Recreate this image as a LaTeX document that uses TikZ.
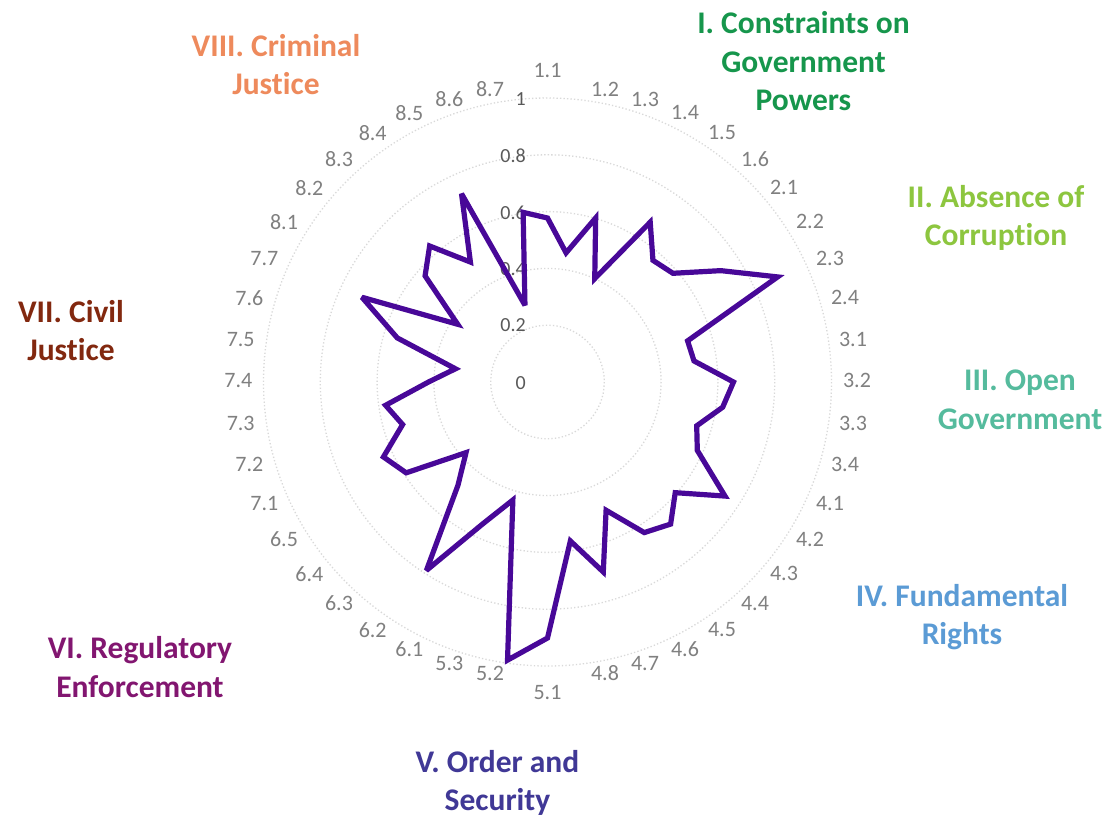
\documentclass[tikz,border=0pt]{standalone}
\usepackage{fontspec}
\setmainfont{Carlito}[Ligatures=NoCommon]
\definecolor{gridgray}{RGB}{217,217,217}
\definecolor{catgray}{RGB}{128,128,128}
\definecolor{valgray}{RGB}{89,89,89}
\definecolor{datapurple}{RGB}{72,8,152}
\definecolor{cI}{RGB}{22,150,76}
\definecolor{cII}{RGB}{141,198,63}
\definecolor{cIII}{RGB}{85,187,157}
\definecolor{cIV}{RGB}{91,155,213}
\definecolor{cV}{RGB}{64,56,150}
\definecolor{cVI}{RGB}{130,22,112}
\definecolor{cVII}{RGB}{130,40,15}
\definecolor{cVIII}{RGB}{238,138,92}
\begin{document}
\begin{tikzpicture}[x=1pt,y=-1pt,
  gridring/.style={draw=gridgray, line width=1.3pt, dash pattern=on 1.3pt off 2.2pt},
  cat/.style={text=catgray, font=\fontsize{22}{26}\selectfont, inner sep=0pt},
  val/.style={text=valgray, font=\fontsize{20}{24}\selectfont, inner sep=0pt, anchor=east},
  title/.style={font=\bfseries\fontsize{31.5}{38.5}\selectfont, align=center, inner sep=0pt, anchor=north},
  dataline/.style={draw=datapurple, line width=5.2pt, line join=miter, miter limit=3}]
\useasboundingbox (0,0) rectangle (1115,822);
\fill[white] (0,0) rectangle (1115,822);
\coordinate (c) at (547.5,382);
% grid rings
\foreach \r in {56.8,113.6,170.4,227.2,284}
  \draw[gridring] (c) circle[radius=\r];
% value axis labels
\node[val] (v0) at (526,382.8) {0};
\node[val] (v2) at (526,325.5) {0.2};
\node[val] (v4) at (526,268.7) {0.4};
\node[val] (v6) at (526,212.7) {0.6};
\node[val] (v8) at (526,155.4) {0.8};
\node[val] (v10) at (526,98.6) {1};
% category labels
\foreach \n/\t/\x/\y in {
  a11/1.1/547.5/71, a12/1.2/605/89, a13/1.3/645/99.6, a14/1.4/685/113,
  a15/1.5/722/133, a16/1.6/755/158.7, a21/2.1/784/187.8, a22/2.2/810/221.8,
  a23/2.3/830/258.3, a24/2.4/845/297.7, a31/3.1/853/339.2, a32/3.2/857/380.7,
  a33/3.3/853/423, a34/3.4/845/464.5, a41/4.1/830/503, a42/4.2/810/539,
  a43/4.3/784/573.7, a44/4.4/755/603.5, a45/4.5/722/629.7, a46/4.6/685/649,
  a47/4.7/645/663.7, a48/4.8/605/673, a51/5.1/547.5/692,
  a52/5.2/490/673, a53/5.3/449.3/663.7, a61/6.1/409.3/649, a62/6.2/372.7/629.7,
  a63/6.3/339/603.5, a64/6.4/309.3/573.7, a65/6.5/284/539, a71/7.1/264.3/503,
  a72/7.2/249.3/464.5, a73/7.3/240.7/423, a74/7.4/238.3/380.7, a75/7.5/240.7/339.2,
  a76/7.6/249.3/297.7, a77/7.7/264.3/258.3, a81/8.1/284/221.8, a82/8.2/309.3/187.8,
  a83/8.3/339/158.7, a84/8.4/372.7/133, a85/8.5/409.3/113, a86/8.6/449.3/98.6,
  a87/8.7/490/89}
  \node[cat] (\n) at (\x,\y) {\t};
% data polygon
\begin{scope}[shift={(c)}]
\draw[dataline] (-90:164)
  \foreach \r [count=\k] in {130.5,171,113.7,190,161,166,206,253,146,148,186,177,155.5,
     164.7,211,169,188,179,141,198,160.6,256,281,123,156,224,136.8,107.8,168,180.4,
     151,163.6,119,93,156.6,204,106.8,162,180,142.6,207,80,171.4}
  { -- ({\k*360/44-90}:\r) } -- cycle;
\end{scope}
% pillar titles
\node[title, text=cI] (tI) at (803.5,11.5) {I. Constraints on\\Government\\Powers};
\node[title, text=cII] (tII) at (996,185) {II. Absence of\\Corruption};
\node[title, text=cIII] (tIII) at (1020,370) {III. Open\\Government};
\node[title, text=cIV] (tIV) at (962,584) {IV. Fundamental\\Rights};
\node[title, text=cV] (tV) at (497.5,750) {V. Order and\\Security};
\node[title, text=cVI] (tVI) at (140,636.5) {VI. Regulatory\\Enforcement};
\node[title, text=cVII] (tVII) at (71,300) {VII. Civil\\Justice};
\node[title, text=cVIII] (tVIII) at (276,34) {VIII. Criminal\\Justice};
\end{tikzpicture}
\end{document}
